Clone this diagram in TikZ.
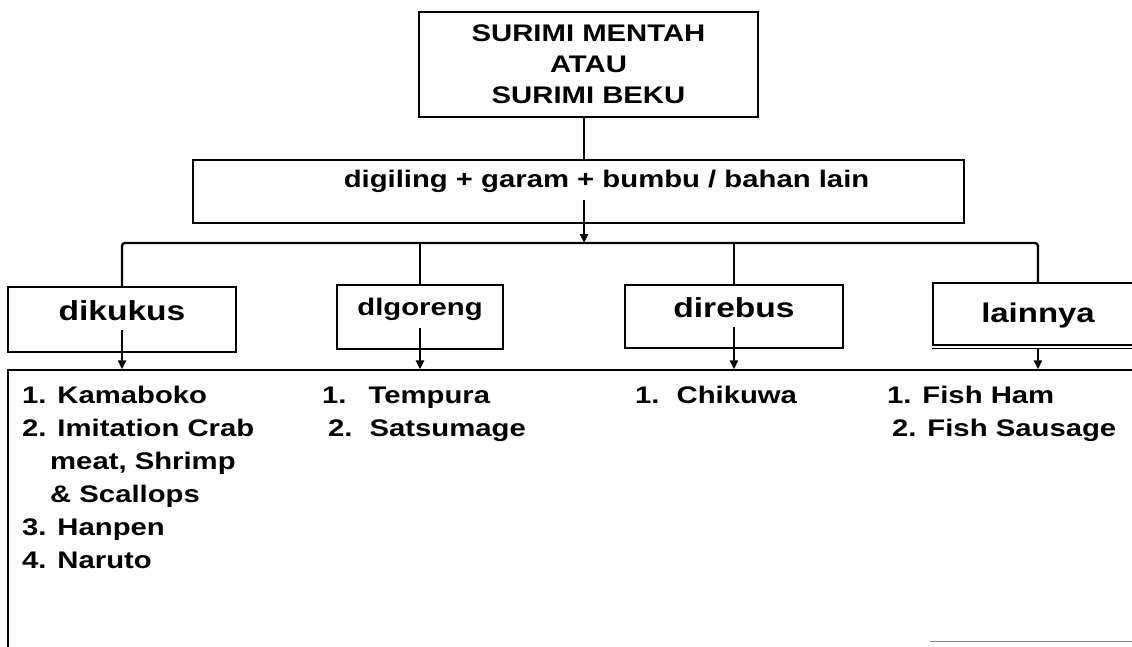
\documentclass[tikz,border=0pt]{standalone}
\usepackage{fontspec}
\setmainfont{Liberation Sans}[FakeStretch=1.22]
\usetikzlibrary{arrows.meta}
\tikzset{
  box/.style={draw,line width=1.4pt,inner xsep=0pt,inner ysep=4pt},
  link/.style={line width=2.4pt},
  flow/.style={line width=2.4pt,-{Triangle[length=9pt,width=8pt]}},
  item/.style={anchor=base west,inner sep=0pt,font=\fontsize{24}{24}\selectfont\bfseries},
}
\begin{document}
\begin{tikzpicture}[x=1pt,y=-1pt]
  \useasboundingbox (0,0) rectangle (1132,646);
  % boxes
  \node[box,minimum width=339pt,minimum height=105pt,align=center,
    font=\fontsize{24}{31}\selectfont\bfseries] (top) at (588.5,64.5)
    {SURIMI MENTAH\\ATAU\\SURIMI BEKU};
  \node[box,minimum width=771pt,minimum height=63pt,text height=23pt,text depth=32pt,
    font=\fontsize{24}{28}\selectfont\bfseries] (mix) at (578.5,191.5)
    {\hspace*{56pt}digiling + garam + bumbu / bahan lain};
  \node[box,minimum width=228pt,minimum height=65pt,text height=29pt,text depth=28pt,
    font=\fontsize{27.5}{30}\selectfont\bfseries] (kukus) at (122,319.5) {dikukus};
  \node[box,minimum width=166pt,minimum height=64pt,text height=26pt,text depth=30pt,
    font=\fontsize{24}{28}\selectfont\bfseries] (goreng) at (420,317) {dlgoreng};
  \node[box,minimum width=218pt,minimum height=63pt,text height=28pt,text depth=27pt,
    font=\fontsize{27.5}{30}\selectfont\bfseries] (rebus) at (734,316.5) {direbus};
  \node[box,minimum width=210pt,minimum height=62pt,text height=35pt,text depth=19pt,
    font=\fontsize{27}{30}\selectfont\bfseries] (lain) at (1038,314) {lainnya};
  \draw[line width=1pt] ([yshift=-3pt]lain.south west) -- ([yshift=-3pt]lain.south east);
  \node[draw,line width=1.4pt,inner sep=0pt,minimum width=1137pt,minimum height=290pt]
    (list) at (576.5,515) {};
  \draw[gray,line width=1pt] (930,641) -- (1132,641);
  % connectors
  \coordinate (bus) at (584,243);
  \draw[link] (top.south -| bus) -- (mix.north -| bus);
  \draw[flow] (bus |- 0,200) -- (bus);
  \draw[link,rounded corners=3pt] (kukus.north) |- (bus) -| (lain.north);
  \draw[link] (goreng.north) -- (goreng.north |- bus);
  \draw[link] (rebus.north) -- (rebus.north |- bus);
  \draw[flow] (kukus |- 0,330) -- (kukus |- list.north);
  \draw[flow] (goreng |- 0,328) -- (goreng |- list.north);
  \draw[flow] (rebus |- 0,327) -- (rebus |- list.north);
  \draw[flow] ([yshift=-3pt]lain.south) -- (lain |- list.north);
  % products
  \foreach \x/\y/\t [count=\i] in {22/403/{1. Kamaboko},22/436/{2. Imitation Crab},
      50/469/{meat, Shrimp},50/502/{\& Scallops},22/535/{3. Hanpen},22/568/{4. Naruto}}
    \node[item] (kukus-\i) at (\x,\y) {\t};
  \node[item] (goreng-1) at (322,403) {1.\hspace{22pt}Tempura};
  \node[item] (goreng-2) at (328,436) {2.\hspace{17pt}Satsumage};
  \node[item] (rebus-1) at (635,403) {1.\hspace{17pt}Chikuwa};
  \node[item] (lain-1) at (887,403) {1. Fish Ham};
  \node[item] (lain-2) at (892,436) {2. Fish Sausage};
\end{tikzpicture}
\end{document}
